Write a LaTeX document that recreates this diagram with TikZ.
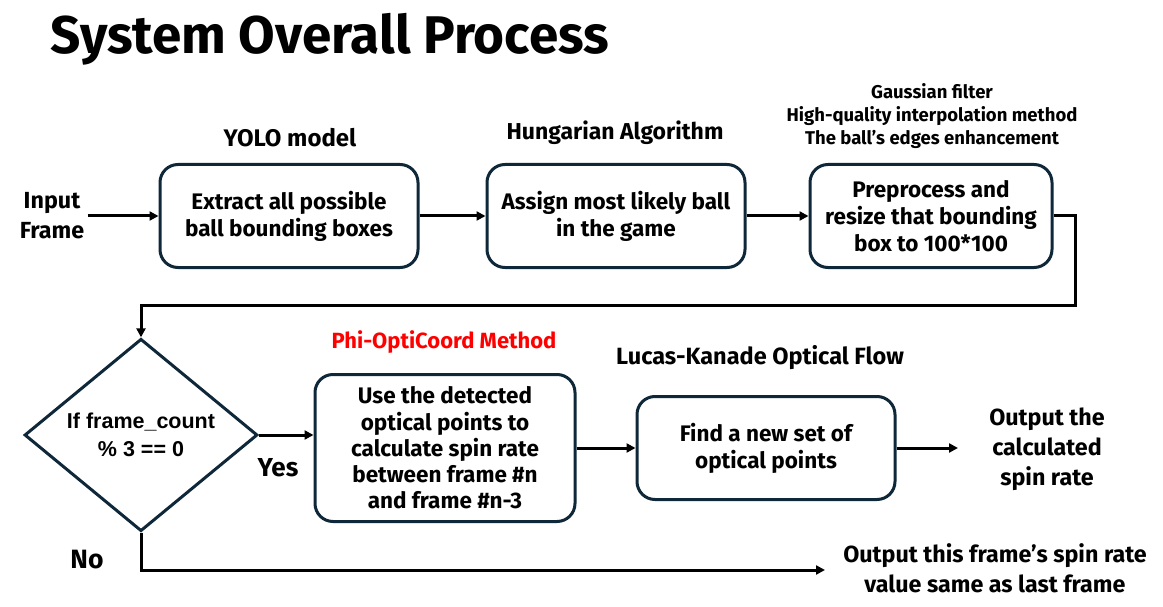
\documentclass[tikz,border=0pt]{standalone}
\usepackage{fontspec}
\setmainfont{Fira Sans}
\newfontfamily\condfont{Liberation Sans}
\usetikzlibrary{shapes.geometric,arrows.meta,positioning,calc}
\definecolor{boxline}{HTML}{0E2839}
\definecolor{methodred}{HTML}{FF0000}

\begin{document}
\begin{tikzpicture}[x=1pt, y=-1pt,
    stepbox/.style={draw=boxline, line width=3pt, rounded corners=18pt, fill=white, align=center, inner sep=3pt, minimum height=103pt, font=\fontsize{22.5}{27}\selectfont\bfseries},
    decision/.style={diamond, draw=boxline, line width=3pt, fill=white, align=center, inner sep=0pt, minimum width=233pt, minimum height=190pt, font=\condfont\fontsize{21.5}{28}\selectfont\bfseries},
    steplabel/.style={align=center, font=\fontsize{23}{23}\selectfont\bfseries},
    sidetext/.style={align=center, font=\fontsize{23.3}{30}\selectfont\bfseries},
    flow/.style={line width=3pt, -{Triangle[length=9pt, width=9pt]}},
    plain/.style={line width=3pt}
]
    \useasboundingbox (0,0) rectangle (1163,607);

    % Title
    \node[anchor=base west, inner sep=0pt, font=\fontsize{53}{56}\selectfont\bfseries] (title) at (50,54) {System Overall Process};

    % First row
    \node[sidetext] (input) at (52,216) {Input\\Frame};
    \node[stepbox, minimum width=258pt] (extract) at (289,216) {Extract all possible\\ball bounding boxes};
    \node[stepbox, minimum width=258pt] (assign) at (616,216) {Assign most likely ball\\in the game};
    \node[stepbox, minimum width=242pt] (resize) at (931,216) {Preprocess and\\resize that bounding\\box to 100*100};

    \node[steplabel, font=\fontsize{24}{24}\selectfont\bfseries] (yolo) at (290,138) {YOLO model};
    \node[steplabel] (hungarian) at (615,133) {Hungarian Algorithm};
    \node[steplabel, font=\fontsize{18.5}{23}\selectfont\bfseries] (preproc) at (932,116) {Gaussian filter\\High-quality interpolation method\\The ball’s edges enhancement};

    \draw[flow] (input.east) -- (extract.west);
    \draw[flow] (extract.east) -- (assign.west);
    \draw[flow] (assign.east) -- (resize.west);

    % Second row
    \node[decision] (check) at (141,435) {\\[-12pt]If frame\_count\\\% 3 == 0};
    \node[stepbox, minimum width=260pt, minimum height=147pt, font=\fontsize{22.5}{26.2}\selectfont\bfseries] (spin) at (445,448) {Use the detected\\optical points to\\calculate spin rate\\between frame \#n\\and frame \#n-3};
    \node[stepbox, minimum width=258pt] (findpts) at (766,448) {Find a new set of\\optical points};
    \node[sidetext] (outrate) at (1047,449) {Output the\\calculated\\spin rate};
    \node[sidetext] (outlast) at (995,568) {Output this frame’s spin rate\\value same as last frame};

    \node[steplabel, text=methodred, font=\fontsize{22}{22}\selectfont\bfseries] (phi) at (444,342) {Phi-OptiCoord Method};
    \node[steplabel, font=\fontsize{23.5}{24}\selectfont\bfseries] (lucas) at (760,358) {Lucas-Kanade Optical Flow};
    \node[sidetext, font=\fontsize{26}{28}\selectfont\bfseries] (yes) at (278,468) {Yes};
    \node[sidetext, font=\fontsize{26.5}{28}\selectfont\bfseries] (no) at (87,560) {No};

    % Connectors
    \coordinate (turn) at (1075,305);
    \coordinate (ratetip) at (958,448);
    \coordinate (lasttip) at (825,570);
    \draw[flow] (resize.east) -| (turn) -| (check.north);
    \draw[flow] (check.east) -- (check.east -| spin.west);
    \draw[flow] (spin.east |- findpts.east) -- (findpts.west);
    \draw[flow] (findpts.east) -- (ratetip);
    \draw[flow] (check.south) |- (lasttip);

\end{tikzpicture}
\end{document}
